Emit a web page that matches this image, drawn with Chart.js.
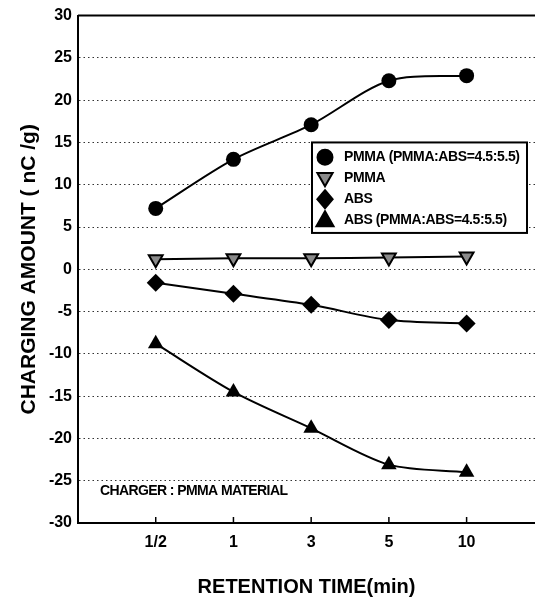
<!DOCTYPE html>
<html>
<head>
<meta charset="utf-8">
<script src="https://cdn.jsdelivr.net/npm/chart.js@4/dist/chart.umd.min.js"></script>
<style>
  html, body { margin: 0; padding: 0; background: #fff; }
  #wrap { width: 535px; height: 601px; }
</style>
</head>
<body>
<div id="wrap"><canvas id="chargeChart"></canvas></div>
<script>
// retention time categories (min)
const timeLabels = ['1/2', '1', '3', '5', '10'];

// charging amount, nC/g
const pmmaBlend = [7.2, 13.0, 17.1, 22.3, 22.9];
const pmma = [1.2, 1.3, 1.3, 1.4, 1.5];
const abs = [-1.6, -2.9, -4.2, -6.0, -6.4];
const absBlend = [-8.8, -14.5, -18.8, -23.1, -24.0];

const yTicks = [-30, -25, -20, -15, -10, -5, 0, 5, 10, 15, 20, 25, 30];

const toPoints = arr => arr.map((v, i) => ({x: i, y: v}));

const seriesInfo = [
    {label: 'PMMA (PMMA:ABS=4.5:5.5)', data: pmmaBlend, style: 'circle', radius: 7.5, rot: 0, fill: '#000'},
    {label: 'PMMA', data: pmma, style: 'triangle', radius: 8, rot: 180, fill: '#8a8a8a'},
    {label: 'ABS', data: abs, style: 'rectRot', radius: 9, rot: 0, fill: '#000'},
    {label: 'ABS (PMMA:ABS=4.5:5.5)', data: absBlend, style: 'triangle', radius: 9, rot: 0, fill: '#000'}
];

function drawMarker(ctx, s, x, y) {
    const r = s.radius;
    ctx.save();
    ctx.translate(x, y);
    ctx.rotate(s.rot * Math.PI / 180);
    ctx.beginPath();
    if (s.style === 'circle') {
        ctx.arc(0, 0, r, 0, Math.PI * 2);
    } else if (s.style === 'triangle') {
        ctx.moveTo(0, -r);
        ctx.lineTo(r * 0.95, r * 0.65);
        ctx.lineTo(-r * 0.95, r * 0.65);
        ctx.closePath();
    } else {
        ctx.moveTo(0, -r);
        ctx.lineTo(r * 0.85, 0);
        ctx.lineTo(0, r);
        ctx.lineTo(-r * 0.85, 0);
        ctx.closePath();
    }
    ctx.fillStyle = s.fill;
    ctx.fill();
    ctx.lineWidth = 2;
    ctx.strokeStyle = '#000';
    ctx.stroke();
    ctx.restore();
}

// frame top line, inward x ticks, legend box, note text
const extras = {
    id: 'extras',
    afterDraw(chart) {
        const ctx = chart.ctx;
        const area = chart.chartArea;
        const xs = chart.scales.x;
        const ys = chart.scales.y;
        ctx.save();
        ctx.strokeStyle = '#000';
        ctx.lineWidth = 2;
        ctx.beginPath();
        ctx.moveTo(area.left, area.top);
        ctx.lineTo(area.right, area.top);
        ctx.stroke();

        ctx.lineWidth = 1.5;
        timeLabels.forEach((t, i) => {
            const px = xs.getPixelForValue(i);
            ctx.beginPath();
            ctx.moveTo(px, area.bottom);
            ctx.lineTo(px, area.bottom - 6);
            ctx.stroke();
        });

        // legend
        const boxL = 312, boxR = 527;
        const boxT = ys.getPixelForValue(15), boxB = ys.getPixelForValue(4.3);
        ctx.fillStyle = '#fff';
        ctx.fillRect(boxL, boxT, boxR - boxL, boxB - boxT);
        ctx.lineWidth = 2;
        ctx.strokeRect(boxL, boxT, boxR - boxL, boxB - boxT);
        ctx.font = 'bold 14px "Liberation Sans", Arial, sans-serif';
        ctx.letterSpacing = '-0.4px';
        ctx.textBaseline = 'middle';
        ctx.textAlign = 'left';
        const rowH = (boxB - boxT) / 4.3;
        seriesInfo.forEach((s, i) => {
            const cy = boxT + rowH * (0.7 + i);
            drawMarker(ctx, s, boxL + 13, cy);
            ctx.fillStyle = '#000';
            ctx.fillText(s.label, boxL + 32, cy);
        });

        ctx.font = 'bold 14px "Liberation Sans", Arial, sans-serif';
        ctx.letterSpacing = '-0.6px';
        ctx.fillStyle = '#000';
        ctx.fillText('CHARGER : PMMA MATERIAL', area.left + 22, ys.getPixelForValue(-26.2));
        ctx.restore();
    }
};

const ctx = document.getElementById('chargeChart').getContext('2d');
const chart = new Chart(ctx, {
    type: 'line',
    data: {
        datasets: seriesInfo.map(s => ({
            label: s.label,
            data: toPoints(s.data),
            borderColor: '#000',
            borderWidth: 2,
            tension: 0.3,
            fill: false,
            pointStyle: s.style,
            pointRotation: s.rot,
            pointRadius: s.radius,
            pointBackgroundColor: s.fill,
            pointBorderColor: '#000',
            pointBorderWidth: s.fill === '#000' ? 0 : 2
        }))
    },
    options: {
        responsive: true,
        maintainAspectRatio: false,
        animation: false,
        layout: {autoPadding: false, padding: {top: 14, right: 0, left: 0, bottom: 0}},
        plugins: {
            legend: {display: false},
            tooltip: {enabled: false}
        },
        scales: {
            x: {
                type: 'linear',
                min: -1,
                max: 4.88,
                afterBuildTicks: scale => {
                    scale.ticks = timeLabels.map((t, i) => ({value: i}));
                },
                afterFit: scale => { scale.height = 78; },
                ticks: {
                    callback: v => timeLabels[v],
                    color: '#000',
                    padding: 10,
                    maxRotation: 0,
                    font: {size: 16, weight: 'bold', family: '"Liberation Sans", Arial'}
                },
                grid: {drawOnChartArea: false, drawTicks: false},
                border: {color: '#000', width: 2},
                title: {
                    display: true,
                    text: 'RETENTION TIME(min)',
                    color: '#000',
                    padding: {top: 0, bottom: 2},
                    font: {size: 20, weight: 'bold', family: '"Liberation Sans", Arial'}
                }
            },
            y: {
                min: -30,
                max: 30,
                afterBuildTicks: scale => {
                    scale.ticks = yTicks.map(v => ({value: v}));
                },
                afterFit: scale => { scale.width = 78; },
                ticks: {
                    color: '#000',
                    padding: 6,
                    font: {size: 16, weight: 'bold', family: '"Liberation Sans", Arial'}
                },
                grid: {color: '#333', lineWidth: 1, drawTicks: false},
                border: {color: '#000', width: 2, dash: [1.5, 3]},
                title: {
                    display: true,
                    text: 'CHARGING AMOUNT ( nC /g)',
                    color: '#000',
                    padding: {top: 17, bottom: 0},
                    font: {size: 21, weight: 'bold', family: '"Liberation Sans", Arial'}
                }
            }
        }
    },
    plugins: [extras]
});
</script>
</body>
</html>
